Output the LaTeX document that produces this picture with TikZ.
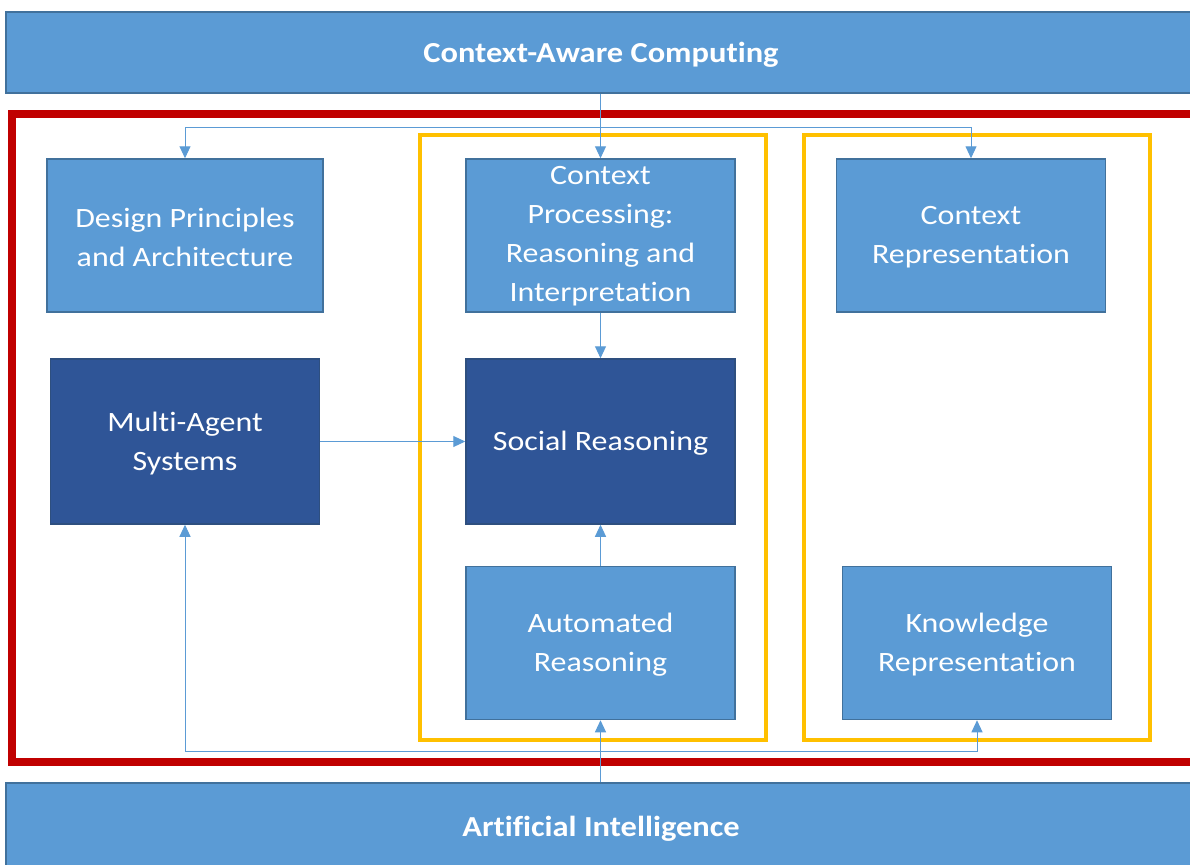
\documentclass[tikz,border=0pt]{standalone}
\usepackage{fontspec}
\setmainfont{Carlito}[Ligatures=CommonOff]
\usetikzlibrary{arrows.meta}
\definecolor{lb}{HTML}{5B9BD5}
\definecolor{lbb}{HTML}{41719C}
\definecolor{db}{HTML}{2F5597}
\definecolor{dbb}{HTML}{2E4F7F}
\definecolor{rd}{HTML}{C00000}
\definecolor{yl}{HTML}{FFC000}
\tikzset{
  banner/.style={draw=lbb, fill=lb, line width=1.5pt, inner sep=0pt},
  bannertxt/.style={text=white, font=\fontsize{29}{34}\selectfont\bfseries, inner sep=0pt, xscale=1.12, transform shape},
  lbox/.style={draw=lbb, fill=lb, line width=1.5pt, inner sep=0pt, minimum width=269pt, minimum height=153pt},
  dbox/.style={lbox, draw=dbb, fill=db, minimum height=165pt},
  txt/.style={text=white, align=center, font=\fontsize{28}{39}\selectfont, inner sep=0pt, xscale=1.14, transform shape},
  conn/.style={draw=lb, line width=1pt, -{Triangle[length=12pt,width=11pt]}},
  redframe/.style={draw=rd, line width=8pt},
  ylframe/.style={draw=yl, line width=4pt}
}
\begin{document}
\begin{tikzpicture}[x=1pt,y=-1pt]
\useasboundingbox[fill=white] (0,0) rectangle (1190,864);
% frames
\draw[redframe] (12,114) rectangle (1196,762);
\draw[ylframe] (420,135) rectangle (766,740);
\draw[ylframe] (804,135) rectangle (1150,740);
% banners
\node[banner, minimum width=1190pt, minimum height=81pt] (top) at (601,52.5) {};
\node[bannertxt] (toptxt) at ([yshift=-2pt]top.center) {Context-Aware Computing};
\node[banner, minimum width=1190pt, minimum height=90pt] (bot) at (601,828) {};
\node[bannertxt] (bottxt) at ([yshift=-1pt]bot.center) {Artificial Intelligence};
% boxes
\node[lbox, minimum width=276pt] (dp) at (185,235.5) {};
\node[lbox] (cp) at (600.5,235.5) {};
\node[lbox] (cr) at (971,235.5) {};
\node[dbox] (ma) at (185,441.5) {};
\node[dbox] (sr) at (600.5,441.5) {};
\node[lbox] (ar) at (600.5,643) {};
\node[lbox] (kr) at (977,643) {};
% texts
\node[txt] (dpt) at ([yshift=-2pt]dp.center) {Design Principles\\and Architecture};
\node[txt] (cpt) at ([yshift=-1pt]cp.center) {Context\\Processing:\\Reasoning and\\Interpretation};
\node[txt] (crt) at ([yshift=-2pt]cr.center) {Context\\Representation};
\node[txt] (mat) at ([yshift=-2pt]ma.center) {Multi-Agent\\Systems};
\node[txt] (srt) at ([yshift=-2pt]sr.center) {Social Reasoning};
\node[txt] (art) at ([yshift=-2pt]ar.center) {Automated\\Reasoning};
\node[txt] (krt) at ([yshift=-2pt]kr.center) {Knowledge\\Representation};
% connectors
\coordinate (j1) at (600.5,127);
\coordinate (j2) at (600.5,751);
\draw[conn] (top.south -| cp.north) -- (cp.north);
\draw[conn] (j1) -| (dp.north);
\draw[conn] (j1) -| (cr.north);
\draw[conn] (cp.south) -- (sr.north);
\draw[conn] (ma.east) -- (sr.west);
\draw[conn] (ar.north) -- (sr.south);
\draw[conn] (bot.north -| ar.south) -- (ar.south);
\draw[conn] (j2) -| (ma.south);
\draw[conn] (j2) -| (kr.south);
\end{tikzpicture}
\end{document}
